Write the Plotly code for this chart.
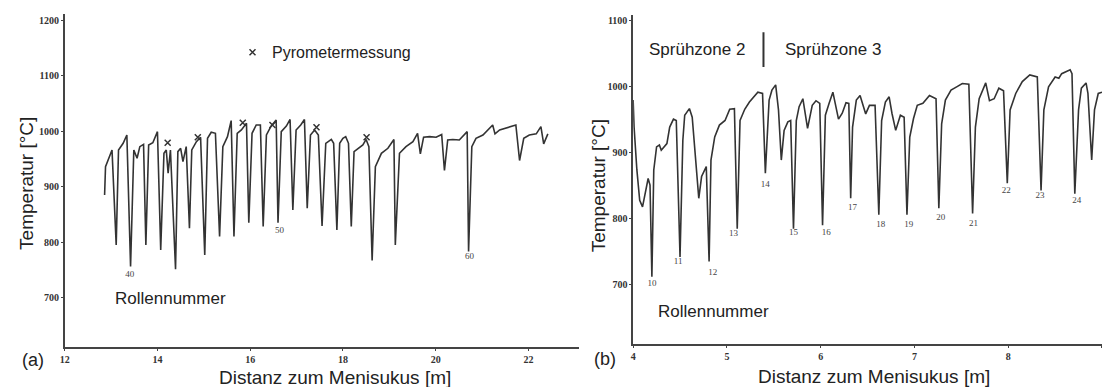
import plotly.graph_objects as go

# ---------------- Panel (a) data ----------------
a_dist = [12.86, 12.88, 13.02, 13.11, 13.16, 13.26, 13.34, 13.42, 13.49, 13.56, 13.62, 13.70, 13.75, 13.81,
          13.90, 14.00, 14.07, 14.14, 14.19, 14.23, 14.28, 14.39, 14.44, 14.50, 14.55, 14.62, 14.69, 14.74,
          14.84, 14.93, 15.02, 15.08, 15.16, 15.25, 15.34, 15.41, 15.51, 15.59, 15.65, 15.72, 15.81, 15.92,
          15.97, 16.04, 16.13, 16.22, 16.28, 16.35, 16.45, 16.56, 16.60, 16.67, 16.78, 16.86, 16.92, 16.99,
          17.09, 17.17, 17.23, 17.30, 17.39, 17.47, 17.55, 17.63, 17.75, 17.80, 17.87, 17.93, 18.00, 18.06,
          18.12, 18.18, 18.24, 18.34, 18.43, 18.50, 18.56, 18.63, 18.70, 18.83, 18.97, 19.10, 19.13, 19.22,
          19.36, 19.51, 19.61, 19.67, 19.74, 19.87, 20.01, 20.13, 20.19, 20.26, 20.37, 20.51, 20.68, 20.71,
          20.78, 20.87, 21.02, 21.23, 21.28, 21.38, 21.55, 21.73, 21.81, 21.90, 22.02, 22.17, 22.27, 22.33,
          22.42]
a_temp = [885, 936, 966, 795, 966, 978, 993, 756, 966, 951, 972, 976, 795, 975,
          979, 999, 786, 960, 966, 924, 966, 751, 963, 969, 945, 972, 825, 966,
          981, 989, 777, 987, 998, 996, 810, 972, 990, 1019, 810, 996, 1002, 1014,
          835, 996, 1011, 1011, 828, 993, 1009, 1020, 835, 999, 1009, 1021, 858, 1002,
          1011, 1021, 861, 993, 1002, 993, 829, 978, 985, 978, 822, 978, 987, 990,
          978, 828, 963, 969, 975, 985, 972, 767, 936, 960, 969, 985, 795, 960,
          972, 981, 996, 959, 989, 990, 989, 994, 929, 984, 985, 984, 999, 783,
          972, 987, 993, 1011, 995, 1002, 1007, 1011, 947, 987, 993, 995, 1008, 977,
          995]
a_pyro_dist = [14.22, 14.87, 15.84, 16.48, 17.43, 18.51]
a_pyro_temp = [979, 989, 1015, 1011, 1007, 989]
a_roll_labels = ["40", "50", "60"]
a_roll_dist = [13.40, 16.63, 20.73]
a_roll_temp = [741, 820, 773]
a_yticks = [700, 800, 900, 1000, 1100, 1200]
a_xticks = [12, 14, 16, 18, 20, 22]

# ---------------- Panel (b) data ----------------
b_dist = [4.00, 4.01, 4.04, 4.07, 4.10, 4.13, 4.16, 4.18, 4.20, 4.22, 4.25, 4.28, 4.30, 4.36, 4.39, 4.43,
          4.46, 4.50, 4.53, 4.55, 4.60, 4.63, 4.67, 4.70, 4.73, 4.76, 4.78, 4.81, 4.83, 4.87, 4.92, 4.98,
          5.03, 5.08, 5.11, 5.14, 5.19, 5.24, 5.33, 5.38, 5.41, 5.45, 5.48, 5.52, 5.55, 5.58, 5.61, 5.65,
          5.68, 5.71, 5.74, 5.77, 5.81, 5.86, 5.91, 5.95, 5.99, 6.02, 6.05, 6.09, 6.13, 6.19, 6.23, 6.27,
          6.30, 6.32, 6.34, 6.38, 6.42, 6.48, 6.52, 6.58, 6.62, 6.65, 6.69, 6.73, 6.76, 6.80, 6.85, 6.89,
          6.92, 6.95, 6.99, 7.03, 7.09, 7.16, 7.23, 7.26, 7.29, 7.33, 7.39, 7.45, 7.51, 7.58, 7.62, 7.65,
          7.69, 7.76, 7.80, 7.85, 7.90, 7.95, 7.99, 8.02, 8.08, 8.15, 8.23, 8.31, 8.35, 8.38, 8.43, 8.50,
          8.54, 8.57, 8.66, 8.68, 8.71, 8.75, 8.78, 8.83, 8.85, 8.89, 8.92, 8.96, 9.00]
b_temp = [979, 938, 873, 827, 817, 840, 860, 850, 711, 873, 908, 911, 903, 913, 938, 950,
          948, 741, 918, 956, 966, 953, 888, 830, 863, 873, 878, 734, 888, 923, 941, 948,
          965, 966, 784, 948, 965, 976, 991, 989, 868, 979, 994, 1002, 964, 888, 933, 946,
          948, 784, 948, 969, 981, 936, 971, 978, 974, 789, 956, 974, 991, 950, 959, 975,
          974, 830, 938, 979, 986, 958, 971, 971, 805, 948, 976, 984, 959, 933, 956, 953,
          805, 923, 951, 971, 974, 986, 981, 815, 943, 979, 994, 999, 1004, 1003, 807, 938,
          981, 1005, 978, 981, 997, 993, 853, 964, 989, 1007, 1017, 1014, 842, 964, 999, 1014,
          1012, 1019, 1025, 1019, 837, 964, 997, 1005, 989, 888, 964, 989, 991]
b_roll_labels = ["10", "11", "12", "13", "14", "15", "16", "17", "18", "19", "20", "21", "22", "23", "24"]
b_roll_dist = [4.20, 4.48, 4.85, 5.07, 5.41, 5.71, 6.06, 6.34, 6.64, 6.94, 7.28, 7.63, 7.98, 8.34, 8.73]
b_roll_temp = [700, 734, 717, 776, 850, 777, 777, 815, 790, 790, 800, 792, 841, 834, 826]
b_yticks = [700, 800, 900, 1000, 1100]
b_xticks = [4, 5, 6, 7, 8, 9]
b_zone_boundary = 5.39

# ---------------- Figure ----------------
W, H = 1102, 387
line_col = "#333333"
axis_col = "#444444"
tick_font = dict(family="Liberation Serif, Times New Roman, serif", size=10, color="#333333", weight="bold")
sans = "Liberation Sans, Arial, sans-serif"
label_font = dict(family=sans, size=17, color="#222222")
roll_font = dict(family="Liberation Serif, Times New Roman, serif", size=9, color="#444444")

fig = go.Figure()

fig.add_trace(go.Scatter(x=a_dist, y=a_temp, mode="lines", line=dict(color=line_col, width=1.6),
                         xaxis="x", yaxis="y", showlegend=False, hoverinfo="skip"))
fig.add_trace(go.Scatter(x=a_pyro_dist, y=a_pyro_temp, mode="markers",
                         marker=dict(symbol="x-thin", size=6, line=dict(color=line_col, width=1.5)),
                         xaxis="x", yaxis="y", showlegend=False, hoverinfo="skip"))
fig.add_trace(go.Scatter(x=a_roll_dist, y=a_roll_temp, mode="text", text=a_roll_labels,
                         textfont=roll_font, xaxis="x", yaxis="y", showlegend=False, hoverinfo="skip"))
# key marker for Pyrometermessung
fig.add_trace(go.Scatter(x=[16.05], y=[1142], mode="markers",
                         marker=dict(symbol="x-thin", size=6, line=dict(color=line_col, width=1.5)),
                         xaxis="x", yaxis="y", showlegend=False, hoverinfo="skip"))

fig.add_trace(go.Scatter(x=b_dist, y=b_temp, mode="lines", line=dict(color=line_col, width=1.6),
                         xaxis="x2", yaxis="y2", showlegend=False, hoverinfo="skip"))
fig.add_trace(go.Scatter(x=b_roll_dist, y=b_roll_temp, mode="text", text=b_roll_labels,
                         textfont=roll_font, xaxis="x2", yaxis="y2", showlegend=False, hoverinfo="skip"))
fig.add_trace(go.Scatter(x=[b_zone_boundary, b_zone_boundary], y=[1029, 1082], mode="lines",
                         line=dict(color=line_col, width=2), xaxis="x2", yaxis="y2",
                         showlegend=False, hoverinfo="skip"))

axis_common = dict(showgrid=False, zeroline=False, showline=True, linecolor=axis_col, linewidth=1.5,
                   ticks="outside", ticklen=2, tickcolor=axis_col, tickfont=tick_font)

fig.update_layout(
    width=W, height=H,
    margin=dict(l=0, r=0, t=0, b=0),
    paper_bgcolor="white", plot_bgcolor="white",
    xaxis=dict(domain=[60 / W, 577 / W], range=[12, 23.1], anchor="y", tickvals=a_xticks, **axis_common),
    yaxis=dict(domain=[1 - 347 / H, 1 - 14 / H], range=[611, 1211], anchor="x", tickvals=a_yticks, **axis_common),
    xaxis2=dict(domain=[631 / W, 1.0], range=[4, 9.0], anchor="y2", tickvals=b_xticks, **axis_common),
    yaxis2=dict(domain=[1 - 344 / H, 1 - 15 / H], range=[609, 1108], anchor="x2", tickvals=b_yticks, **axis_common),
)


def paper_ann(text, px, py, size, angle=0):
    return dict(text=text, x=px / W, y=1 - py / H, xref="paper", yref="paper",
                xanchor="center", yanchor="middle", textangle=angle, showarrow=False,
                font=dict(family=sans, size=size, color="#222"))


def data_ann(text, x, y, xr, yr, font):
    return dict(text=text, x=x, y=y, xref=xr, yref=yr, xanchor="center", yanchor="middle",
                showarrow=False, font=font)


ann = [
    paper_ann("Temperatur [°C]", 22, 183, 19, -90),
    paper_ann("Temperatur [°C]", 596, 186, 19, -90),
    paper_ann("Distanz zum Menisukus [m]", 332, 377, 19),
    paper_ann("Distanz zum Menisukus [m]", 873, 376, 19),
    paper_ann("(a)", 28, 360, 18),
    paper_ann("(b)", 603, 359, 18),
    data_ann("Pyrometermessung", 17.97, 1142, "x", "y", dict(family=sans, size=16, color="#222")),
    data_ann("Rollennummer", 14.28, 698, "x", "y", label_font),
    data_ann("Rollennummer", 4.86, 659, "x2", "y2", label_font),
    data_ann("Sprühzone 2", 4.68, 1055, "x2", "y2", label_font),
    data_ann("Sprühzone 3", 6.13, 1055, "x2", "y2", label_font),
]
fig.update_layout(annotations=ann)

fig.write_html("out.html")
